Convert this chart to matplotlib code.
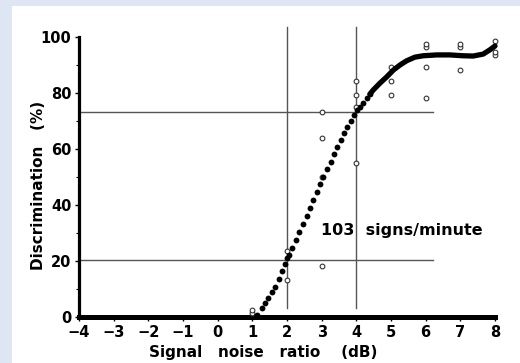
import matplotlib.pyplot as plt
from matplotlib.patches import Rectangle

# individual measurements (open circles)
trial_snr = [1, 1, 2, 2, 3, 3, 3, 3, 4, 4, 4, 4, 5, 5, 5,
             6, 6, 6, 6, 7, 7, 7, 8, 8, 8]
trial_disc = [1.3, 2.5, 13.2, 23.7, 18.3, 50.0, 63.9, 73.2, 55.0, 75.0, 79.3, 84.3,
              79.3, 84.3, 89.3, 78.2, 89.4, 96.4, 97.5, 88.3, 96.4, 97.5,
              93.6, 94.8, 98.7]

# fitted curve, sparse dotted part
dots_snr = [1.13, 1.27, 1.36, 1.46, 1.56, 1.65, 1.78, 1.85, 1.94, 2.0, 2.07,
            2.15, 2.26, 2.35, 2.47, 2.57, 2.66, 2.76, 2.86, 2.95, 3.03, 3.16,
            3.26, 3.36, 3.45, 3.55, 3.64, 3.74, 3.84, 3.93, 4.03, 4.10, 4.20,
            4.30, 4.39]
dots_disc = [0.7, 3.1, 4.9, 6.7, 9.0, 10.6, 13.6, 16.5, 18.9, 21.0, 22.1,
             24.8, 27.5, 30.3, 33.1, 36.1, 39.1, 41.8, 44.5, 47.4, 50.1, 52.9,
             55.5, 58.2, 60.6, 63.2, 65.6, 67.8, 70.0, 72.1, 73.9, 74.9, 76.3,
             78.1, 79.6]

# fitted curve, dense part (dots run together)
fit_snr = [4.39, 4.49, 4.68, 4.88, 5.07, 5.26, 5.45, 5.69, 5.93, 6.32, 6.70,
           7.08, 7.37, 7.66, 7.85, 8.0]
fit_disc = [79.6, 81.1, 83.5, 85.8, 88.2, 90.0, 91.5, 92.8, 93.3, 93.6, 93.6,
            93.3, 93.2, 93.9, 95.4, 96.8]

ref_levels = [73.3, 20.5]
ref_snr = [2, 4]

x_ticks = list(range(-4, 9))
y_ticks = [0, 20, 40, 60, 80, 100]


def main():
    fig = plt.figure(figsize=(5.2, 3.63), dpi=100)
    fig.patch.set_facecolor("#dde6f2")
    fig.patches.append(Rectangle((12 / 520, 0), 1, (363 - 6) / 363,
                                 transform=fig.transFigure, facecolor="white",
                                 edgecolor="none", zorder=-5))

    ax = fig.add_axes([79 / 520, 46 / 363, 416 / 520, 280 / 363])
    ax.set_facecolor("none")

    for lvl in ref_levels:
        ax.plot([-4, 6.2], [lvl, lvl], color="#555555", lw=1, clip_on=False)
    for s in ref_snr:
        ax.plot([s, s], [3.3, 103.6], color="#555555", lw=1, clip_on=False)

    ax.plot(trial_snr, trial_disc, "o", ms=3.4, mfc="white", mec="#333333",
            mew=0.8, clip_on=False, zorder=3)
    ax.plot(fit_snr, fit_disc, "-", color="black", lw=3.8,
            solid_capstyle="round", clip_on=False, zorder=4)
    ax.plot(dots_snr, dots_disc, "o", ms=4.2, color="black", mec="none",
            clip_on=False, zorder=4)

    ax.text(2.98, 31, "103  signs/minute", fontsize=11.5, fontweight="bold",
            ha="left", va="center")

    ax.set_xlim(-4, 8)
    ax.set_ylim(0, 100)
    ax.set_xticks(x_ticks)
    ax.set_xticklabels([str(t).replace("-", "\u2212") for t in x_ticks],
                       fontweight="bold", fontsize=10.5)
    ax.set_yticks(y_ticks)
    ax.set_yticklabels([str(t) for t in y_ticks], fontweight="bold",
                       fontsize=10.5)
    ax.set_yticks([10, 30, 50, 70, 90], minor=True)
    ax.tick_params(axis="both", length=3, width=1, pad=2.5)
    ax.tick_params(axis="y", which="minor", length=2, width=0.8)

    for side in ["top", "right"]:
        ax.spines[side].set_visible(False)
    ax.spines["left"].set_linewidth(2.3)
    ax.spines["bottom"].set_linewidth(3.6)

    fig.text(263 / 520, 11 / 363, "Signal   noise   ratio    (dB)",
             fontsize=11, fontweight="bold", ha="center", va="center")
    fig.text(39 / 520, 178 / 363, "Discrimination   (%)", fontsize=11,
             fontweight="bold", rotation=90, ha="center", va="center")

    fig.savefig("out.png", dpi=100, facecolor=fig.get_facecolor())


if __name__ == "__main__":
    main()
